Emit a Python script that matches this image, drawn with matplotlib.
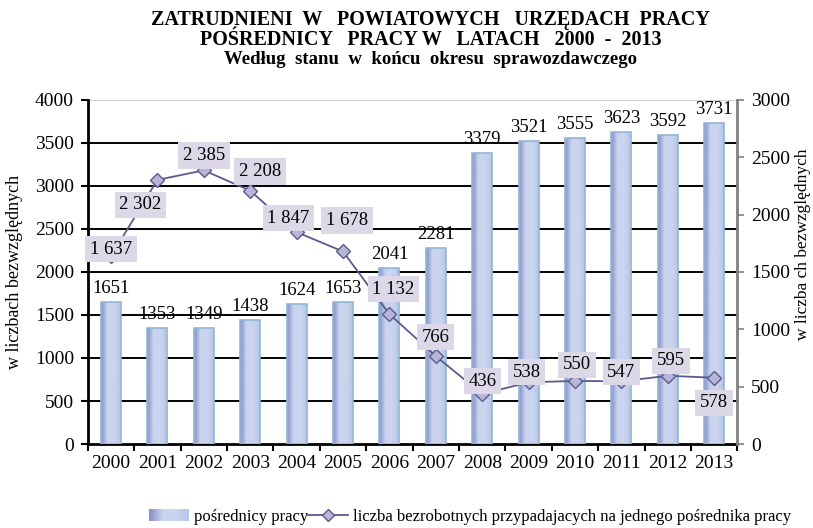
import numpy as np
import matplotlib
matplotlib.use("Agg")
import matplotlib.pyplot as plt
from matplotlib.colors import LinearSegmentedColormap
from matplotlib.legend_handler import HandlerBase
from matplotlib.patches import Rectangle
from matplotlib.lines import Line2D

plt.rcParams['font.family'] = ['Liberation Serif', 'DejaVu Serif']

years = ['2000', '2001', '2002', '2003', '2004', '2005', '2006',
         '2007', '2008', '2009', '2010', '2011', '2012', '2013']
posrednicy = [1651, 1353, 1349, 1438, 1624, 1653, 2041,
              2281, 3379, 3521, 3555, 3623, 3592, 3731]
bezrobotni_na_posrednika = [1637, 2302, 2385, 2208, 1847, 1678, 1132,
                            766, 436, 538, 550, 547, 595, 578]
line_labels = ['1 637', '2 302', '2 385', '2 208', '1 847', '1 678', '1 132',
               '766', '436', '538', '550', '547', '595', '578']

# label offsets (pixels) for the line labels
lbl_off = [(0, 7), (-17, -25), (0, 15), (10, 19), (-8, 14), (4, 31), (4, 25),
           (0, 19), (0, 13), (-2, 10), (2, 16), (0, 9), (3, 15), (0, -25)]

bar_dark = "#8591c8"
bar_light = "#cad4ee"
bar_edge = "#93b6d6"
line_col = "#5b5a8e"
box_col = "#ddd8e7"
cmap = LinearSegmentedColormap.from_list("bar", [bar_dark, bar_light, bar_light, "#b9c6e6"])

fig = plt.figure(figsize=(8.13, 5.28), dpi=100)
ax = fig.add_axes([0.108, 0.159, 0.799, 0.652])
ax2 = ax.twinx()

x = np.arange(len(years))
bars = ax.bar(x, posrednicy, width=0.43, color="none", edgecolor=bar_edge,
              linewidth=1.2, zorder=3)
grad = np.linspace(0, 1, 64).reshape(1, -1)
for b in bars:
    im = ax.imshow(grad, cmap=cmap, aspect='auto', zorder=2.9,
                   extent=[b.get_x(), b.get_x() + b.get_width(), 0, b.get_height()])
    im.set_clip_path(b)

for xi, v in zip(x, posrednicy):
    ax.annotate(str(v), (xi, v), xytext=(0, 9), textcoords='offset pixels',
                ha='center', va='baseline', fontsize=13.5, zorder=5)

ax.set_xlim(-0.5, len(years) - 0.5)
ax.set_ylim(0, 4000)
ax.set_yticks(np.arange(0, 4001, 500))
ax.set_xticks(x)
ax.set_xticklabels(years)
ax.set_xticks(np.arange(-0.5, len(years), 1), minor=True)
ax.tick_params(axis='x', which='major', length=0, labelsize=14, pad=8)
ax.tick_params(axis='x', which='minor', length=5, width=1.5, direction='out')
ax.tick_params(axis='y', length=5, width=1.5, direction='out', labelsize=14, pad=5)
for yv in np.arange(500, 4000, 500):
    ax.axhline(yv, color='black', linewidth=1.4, zorder=1)
ax.axhline(4000, color='#c8c8c8', linewidth=1.2, zorder=1)

for s in ['left', 'bottom']:
    ax.spines[s].set_linewidth(2)
    ax.spines[s].set_color('black')
ax.spines['top'].set_visible(False)
ax.spines['right'].set_visible(False)

ax2.plot(x, bezrobotni_na_posrednika, color=line_col, linewidth=1.3,
         marker='D', markersize=7, markerfacecolor='#b9b5d6',
         markeredgecolor=line_col, markeredgewidth=1.0, zorder=4)
for xi, v, t, (dx, dy) in zip(x, bezrobotni_na_posrednika, line_labels, lbl_off):
    ax2.annotate(t, (xi, v), xytext=(dx, dy), textcoords='offset pixels',
                 ha='center', va='center', fontsize=13.5, zorder=6,
                 bbox=dict(boxstyle='square,pad=0.25', facecolor=box_col, edgecolor='none'))
ax2.set_ylim(0, 3000)
ax2.set_yticks(np.arange(0, 3001, 500))
ax2.tick_params(axis='y', length=5, width=1.2, direction='out', color='#808080',
                labelsize=14, pad=5)
for s in ['left', 'bottom', 'top']:
    ax2.spines[s].set_visible(False)
ax2.spines['right'].set_color('#808080')
ax2.spines['right'].set_linewidth(2)

ax.set_ylabel('w liczbach bezwzględnych', fontsize=13)
ax.yaxis.set_label_coords(-0.100, 0.5)
ax2.set_ylabel('w liczba ch bezwzględnych', fontsize=12.5, rotation=90)
ax2.yaxis.set_label_coords(1.088, 0.58)

fig.text(0.53, 0.962, 'ZATRUDNIENI  W   POWIATOWYCH   URZĘDACH  PRACY',
         ha='center', va='center', fontsize=14.5, weight='bold')
fig.text(0.53, 0.925, 'POŚREDNICY   PRACY W   LATACH   2000  -  2013',
         ha='center', va='center', fontsize=14.5, weight='bold')
fig.text(0.53, 0.888, 'Według  stanu  w  końcu  okresu  sprawozdawczego',
         ha='center', va='center', fontsize=13.5, weight='bold')


class GradientHandler(HandlerBase):
    def create_artists(self, legend, orig_handle, xdescent, ydescent,
                       width, height, fontsize, trans):
        n = 20
        arts = []
        for i in range(n):
            arts.append(Rectangle((-xdescent + i * width / n, -ydescent), width / n, height,
                                  facecolor=cmap(i / (n - 1)), edgecolor='none',
                                  transform=trans))
        return arts


bar_handle = Rectangle((0, 0), 1, 1)
line_handle = Line2D([], [], color=line_col, linewidth=1.3, marker='D', markersize=6,
                     markerfacecolor='#b9b5d6', markeredgecolor=line_col)
fig.legend([bar_handle, line_handle],
           ['pośrednicy pracy', 'liczba bezrobotnych przypadajacych na jednego pośrednika pracy'],
           handler_map={Rectangle: GradientHandler()},
           loc='center', bbox_to_anchor=(0.578, 0.021), ncol=2, frameon=False,
           fontsize=12, handlelength=2.4, handletextpad=0.3, columnspacing=0.0)

fig.savefig('out.png', dpi=100)
